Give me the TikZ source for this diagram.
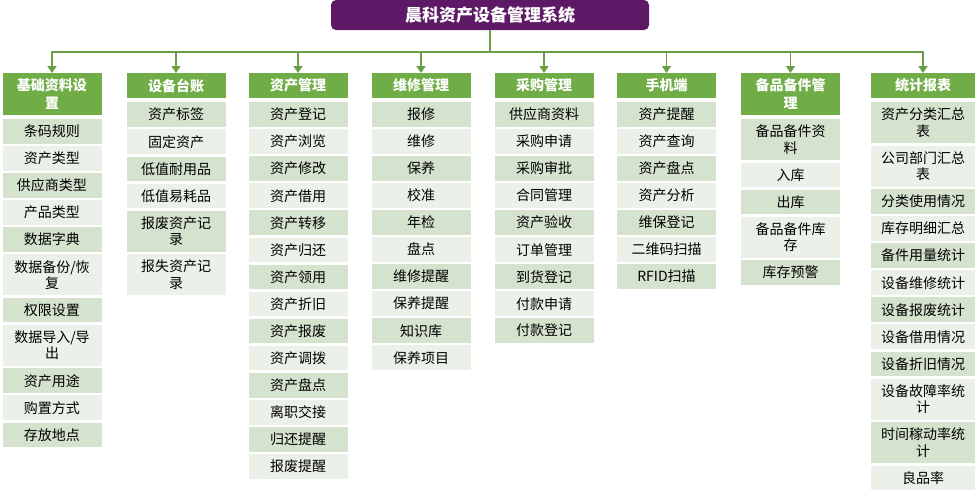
\documentclass[tikz,border=0pt]{standalone}
\usepackage{fontspec}
\newfontfamily\cjk{Noto Sans CJK SC}
\usetikzlibrary{positioning,arrows.meta}
\definecolor{titlepurple}{HTML}{5E1966}
\definecolor{headgreen}{HTML}{70AD47}
\definecolor{linkgreen}{HTML}{6A9F45}
\definecolor{rowdark}{HTML}{D5E3CE}
\definecolor{rowlight}{HTML}{EBF1E8}

\begin{document}
\begin{tikzpicture}[x=1pt, y=-1pt,
  every node/.style={font=\cjk\fontsize{14}{16.5}\selectfont, inner sep=0pt},
  title/.style={fill=titlepurple, rounded corners=5pt, text=white,
    font=\cjk\bfseries\fontsize{17}{20}\selectfont, minimum width=318pt, minimum height=30pt},
  head/.style={anchor=north, fill=headgreen, text=white, font=\cjk\bfseries\fontsize{14}{17.5}\selectfont,
    minimum width=99pt, text width=95pt, align=center, inner ysep=5.5pt, minimum height=24pt},
  item/.style={below=\gap of #1, fill=\rowcol, minimum width=99pt, text width=95pt,
    align=center, inner ysep=5.83pt, minimum height=24pt},
  link/.style={linkgreen, line width=1.8pt},
  drop/.style={link, -{Triangle[width=9pt,length=7pt]}}]
	\useasboundingbox (0,0) rectangle (980,496);
	% system title and the bus below it
	\node[title] (sys) at (490,15) {晨科资产设备管理系统};
	\coordinate (bus) at ([yshift=-22pt]sys.south);
	% column headers
	\node[head] (c1-0) at (52,73) {基础资料设\\置};
	\node[head] (c2-0) at (176,73) {设备台账};
	\node[head] (c3-0) at (298,73) {资产管理};
	\node[head] (c4-0) at (421,73) {维修管理};
	\node[head] (c5-0) at (544,73) {采购管理};
	\node[head] (c6-0) at (666.5,73) {手机端};
	\node[head] (c7-0) at (790.5,73) {备品备件管\\理};
	\node[head, minimum width=104pt] (c8-0) at (923,73) {统计报表};
	\draw[link] (sys.south) -- (bus);
	\draw[link, line cap=rect] (bus -| c1-0.north) -- (bus -| c8-0.north);
	\foreach \c in {1,...,8}
		\draw[drop] (bus -| c\c-0.north) -- (c\c-0.north);
	% column items, rows alternate dark / light
	\foreach \txt [count=\i, remember=\i as \j (initially 0)] in {条码规则, 资产类型, 供应商类型, 产品类型, 数据字典, {数据备份/恢\\复}, 权限设置, {数据导入/导\\出}, 资产用途, 购置方式, 存放地点}{
		\ifodd\i \def\rowcol{rowdark}\else \def\rowcol{rowlight}\fi
		\ifnum\i=1 \def\gap{4pt}\else \def\gap{2pt}\fi
		\node[item=c1-\j] (c1-\i) {\txt};
	}
	\foreach \txt [count=\i, remember=\i as \j (initially 0)] in {资产标签, 固定资产, 低值耐用品, 低值易耗品, {报废资产记\\录}, {报失资产记\\录}}{
		\ifodd\i \def\rowcol{rowdark}\else \def\rowcol{rowlight}\fi
		\ifnum\i=1 \def\gap{4pt}\else \def\gap{2pt}\fi
		\node[item=c2-\j] (c2-\i) {\txt};
	}
	\foreach \txt [count=\i, remember=\i as \j (initially 0)] in {资产登记, 资产浏览, 资产修改, 资产借用, 资产转移, 资产归还, 资产领用, 资产折旧, 资产报废, 资产调拨, 资产盘点, 离职交接, 归还提醒, 报废提醒}{
		\ifodd\i \def\rowcol{rowdark}\else \def\rowcol{rowlight}\fi
		\ifnum\i=1 \def\gap{4pt}\else \def\gap{2pt}\fi
		\node[item=c3-\j] (c3-\i) {\txt};
	}
	\foreach \txt [count=\i, remember=\i as \j (initially 0)] in {报修, 维修, 保养, 校准, 年检, 盘点, 维修提醒, 保养提醒, 知识库, 保养项目}{
		\ifodd\i \def\rowcol{rowdark}\else \def\rowcol{rowlight}\fi
		\ifnum\i=1 \def\gap{4pt}\else \def\gap{2pt}\fi
		\node[item=c4-\j] (c4-\i) {\txt};
	}
	\foreach \txt [count=\i, remember=\i as \j (initially 0)] in {供应商资料, 采购申请, 采购审批, 合同管理, 资产验收, 订单管理, 到货登记, 付款申请, 付款登记}{
		\ifodd\i \def\rowcol{rowdark}\else \def\rowcol{rowlight}\fi
		\ifnum\i=1 \def\gap{4pt}\else \def\gap{2pt}\fi
		\node[item=c5-\j] (c5-\i) {\txt};
	}
	\foreach \txt [count=\i, remember=\i as \j (initially 0)] in {资产提醒, 资产查询, 资产盘点, 资产分析, 维保登记, 二维码扫描, RFID扫描}{
		\ifodd\i \def\rowcol{rowdark}\else \def\rowcol{rowlight}\fi
		\ifnum\i=1 \def\gap{4pt}\else \def\gap{2pt}\fi
		\node[item=c6-\j] (c6-\i) {\txt};
	}
	\foreach \txt [count=\i, remember=\i as \j (initially 0)] in {{备品备件资\\料}, 入库, 出库, {备品备件库\\存}, 库存预警}{
		\ifodd\i \def\rowcol{rowdark}\else \def\rowcol{rowlight}\fi
		\ifnum\i=1 \def\gap{4pt}\else \def\gap{2pt}\fi
		\node[item=c7-\j] (c7-\i) {\txt};
	}
	\foreach \txt [count=\i, remember=\i as \j (initially 0)] in {{资产分类汇总\\表}, {公司部门汇总\\表}, 分类使用情况, 库存明细汇总, 备件用量统计, 设备维修统计, 设备报废统计, 设备借用情况, 设备折旧情况, {设备故障率统\\计}, {时间稼动率统\\计}, 良品率}{
		\ifodd\i \def\rowcol{rowdark}\else \def\rowcol{rowlight}\fi
		\ifnum\i=1 \def\gap{4pt}\else \def\gap{2pt}\fi
		\node[item=c8-\j, minimum width=104pt] (c8-\i) {\txt};
	}
\end{tikzpicture}
\end{document}
